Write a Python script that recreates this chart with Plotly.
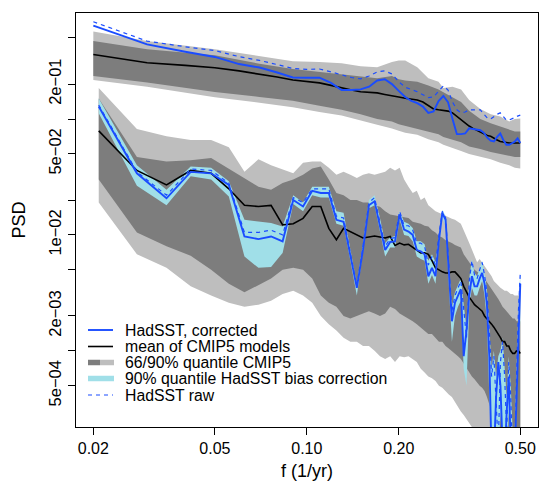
import plotly.graph_objects as go

# ---- upper set: smoothed spectra (offset), frequency grid 0.02 .. 0.50
f_up = [round(0.02 + 0.01 * i, 2) for i in range(49)]

up_corrected = [0.64, 0.44, 0.38, 0.343, 0.298, 0.278, 0.252, 0.228, 0.227, 0.227,
                0.205, 0.178, 0.178, 0.18, 0.19, 0.215, 0.22, 0.20, 0.175, 0.155,
                0.143, 0.137, 0.128, 0.113, 0.116, 0.143, 0.158, 0.14, 0.10, 0.074,
                0.074, 0.075, 0.083, 0.082, 0.081, 0.08, 0.076, 0.069, 0.065, 0.064,
                0.07, 0.075, 0.066, 0.06, 0.06, 0.062, 0.064, 0.068, 0.062]
up_raw = [0.69, 0.47, 0.42, 0.39, 0.345, 0.32, 0.295, 0.273, 0.268, 0.27,
          0.255, 0.24, 0.228, 0.222, 0.235, 0.255, 0.26, 0.245, 0.21, 0.188,
          0.18, 0.172, 0.162, 0.153, 0.155, 0.175, 0.193, 0.178, 0.14, 0.12,
          0.113, 0.115, 0.12, 0.12, 0.12, 0.12, 0.11, 0.102, 0.10, 0.105,
          0.11, 0.113, 0.105, 0.098, 0.098, 0.10, 0.103, 0.106, 0.108]
up_mean = [0.36, 0.306, 0.29, 0.277, 0.26, 0.245, 0.23, 0.217, 0.21, 0.205,
           0.195, 0.185, 0.178, 0.172, 0.17, 0.168, 0.163, 0.16, 0.155, 0.151,
           0.148, 0.146, 0.14, 0.13, 0.122, 0.12, 0.119, 0.117, 0.113, 0.105,
           0.098, 0.092, 0.087, 0.083, 0.08, 0.077, 0.074, 0.072, 0.071, 0.068,
           0.066, 0.064, 0.063, 0.062, 0.062, 0.062, 0.062, 0.062, 0.062]

# upper CMIP5 quantile bands
f_ub = [0.02, 0.03, 0.05, 0.07, 0.09, 0.11, 0.13, 0.15, 0.17, 0.19, 0.20, 0.21, 0.23,
        0.25, 0.27, 0.28, 0.30, 0.32, 0.34, 0.37, 0.40, 0.43, 0.46, 0.48, 0.50]
ub_q95 = [0.57, 0.47, 0.40, 0.35, 0.315, 0.31, 0.303, 0.285, 0.28, 0.31, 0.32, 0.32, 0.28,
          0.225, 0.21, 0.185, 0.19, 0.18, 0.146, 0.122, 0.11, 0.105, 0.095, 0.10, 0.101]
ub_q83 = [0.47, 0.40, 0.355, 0.30, 0.27, 0.255, 0.24, 0.232, 0.225, 0.235, 0.22, 0.215, 0.21,
          0.195, 0.18, 0.17, 0.155, 0.14, 0.118, 0.10, 0.092, 0.086, 0.08, 0.078, 0.078]
ub_q17 = [0.235, 0.206, 0.171, 0.155, 0.144, 0.13, 0.12, 0.11, 0.10, 0.095, 0.09, 0.087, 0.083,
          0.078, 0.074, 0.07, 0.066, 0.063, 0.058, 0.055, 0.052, 0.05, 0.048, 0.047, 0.047]
ub_q05 = [0.217, 0.19, 0.154, 0.138, 0.126, 0.115, 0.107, 0.097, 0.089, 0.083, 0.079, 0.076, 0.073,
          0.067, 0.063, 0.060, 0.056, 0.053, 0.050, 0.047, 0.045, 0.042, 0.04, 0.038, 0.0375]

# ---- lower set: raw periodogram, f = k/144, k = 3..72
f_lo = [k / 144 for k in range(3, 73)]

lo_corrected = [0.128, 0.034, 0.0207, 0.035, 0.034, 0.027, 0.0097, 0.0092, 0.0097, 0.0088,
                0.020, 0.0176, 0.024, 0.023, 0.023, 0.0135, 0.013, 0.0065, 0.0035, 0.0075,
                0.018, 0.0195, 0.012, 0.0074, 0.0087, 0.0088, 0.015, 0.0111, 0.0107, 0.0100,
                0.0074, 0.0072, 0.0068, 0.0044, 0.0052, 0.0044, 0.009, 0.0155, 0.0135, 0.0047,
                0.0018, 0.0026, 0.0030, 0.0034, 0.0009, 0.0015, 0.003, 0.0044, 0.0036, 0.0036,
                0.0042, 0.0047, 0.0038, 0.0025, 0.0009, 0.00012, 0.00012, 0.0004, 0.0008, 0.0005,
                0.00015, 0.00012, 0.0003, 0.0006, 0.00015, 0.00012, 0.00012, 0.0004, 0.0018, 0.0038]
lo_raw = [0.132, 0.035, 0.022, 0.037, 0.036, 0.028, 0.0105, 0.0105, 0.011, 0.0100,
          0.021, 0.019, 0.025, 0.025, 0.025, 0.0145, 0.014, 0.007, 0.0036, 0.008,
          0.019, 0.021, 0.013, 0.008, 0.0093, 0.0095, 0.016, 0.012, 0.012, 0.011,
          0.0085, 0.0085, 0.008, 0.0055, 0.0065, 0.0055, 0.010, 0.016, 0.014, 0.0055,
          0.0022, 0.003, 0.0035, 0.004, 0.0023, 0.0013, 0.004, 0.006, 0.0045, 0.0042,
          0.005, 0.0058, 0.0045, 0.0032, 0.0015, 0.0006, 0.0009, 0.0004, 0.00015, 0.0008,
          0.0012, 0.0006, 0.0002, 0.0008, 0.0004, 0.00012, 0.00012, 0.0006, 0.0022, 0.0047]
lo_bias_hi = [0.15, 0.040, 0.0245, 0.039, 0.038, 0.029, 0.0135, 0.013, 0.0127, 0.0118,
              0.022, 0.019, 0.026, 0.026, 0.026, 0.016, 0.0155, 0.0075, 0.0038, 0.0085,
              0.020, 0.022, 0.014, 0.0085, 0.0095, 0.0098, 0.016, 0.013, 0.0125, 0.0115,
              0.0088, 0.0088, 0.0083, 0.006, 0.0068, 0.0058, 0.0105, 0.0165, 0.0145, 0.006,
              0.0024, 0.0032, 0.0037, 0.0042, 0.0025, 0.0016, 0.0042, 0.0062, 0.0047, 0.0044,
              0.0052, 0.006, 0.0047, 0.0034, 0.0016, 0.0007, 0.001, 0.0006, 0.0009, 0.001,
              0.0013, 0.0007, 0.0004, 0.0009, 0.0005, 0.0002, 0.0002, 0.0007, 0.0024, 0.0048]
lo_bias_lo = [0.112, 0.0265, 0.018, 0.032, 0.030, 0.0215, 0.0065, 0.0052, 0.0053, 0.007,
              0.0185, 0.016, 0.022, 0.021, 0.021, 0.0125, 0.012, 0.006, 0.003, 0.007,
              0.017, 0.018, 0.011, 0.0065, 0.0078, 0.0078, 0.0135, 0.010, 0.0098, 0.0088,
              0.0065, 0.0062, 0.006, 0.0038, 0.0045, 0.0038, 0.008, 0.014, 0.012, 0.004,
              0.0012, 0.002, 0.0024, 0.0027, 0.0007, 0.0005, 0.0024, 0.0035, 0.003, 0.003,
              0.0035, 0.004, 0.003, 0.0018, 0.0004, 0.0001, 0.0001, 0.0001, 0.0001, 0.0003,
              0.0001, 0.0001, 0.0001, 0.0003, 0.0001, 0.0001, 0.0001, 0.0002, 0.0009, 0.0018]
lo_mean = [0.079, 0.036, 0.027, 0.036, 0.034, 0.025, 0.018, 0.0176, 0.018, 0.0122,
           0.0125, 0.0139, 0.0176, 0.0176, 0.0114, 0.0091, 0.0114, 0.0107, 0.010, 0.0094,
           0.0096, 0.0098, 0.0096, 0.0094, 0.0097, 0.0081, 0.0085, 0.0082, 0.0083, 0.0078,
           0.0074, 0.0070, 0.0070, 0.0068, 0.0060, 0.0052, 0.0050, 0.0048, 0.0047, 0.0047,
           0.0048, 0.0048, 0.0045, 0.0042, 0.0036, 0.0032, 0.0029, 0.0027, 0.0025, 0.0024,
           0.0023, 0.0022, 0.0020, 0.0019, 0.0018, 0.0017, 0.0016, 0.0015, 0.0014, 0.0013,
           0.0012, 0.0012, 0.0011, 0.0011, 0.0010, 0.00095, 0.00095, 0.001, 0.001, 0.00095]
lo_q95 = [0.185, 0.082, 0.071, 0.066, 0.066, 0.057, 0.035, 0.045, 0.040, 0.037,
          0.034, 0.042, 0.043, 0.043, 0.038, 0.033, 0.035, 0.033, 0.031, 0.033,
          0.034, 0.033, 0.034, 0.035, 0.038, 0.036, 0.038, 0.030, 0.026, 0.023,
          0.024, 0.020, 0.021, 0.018, 0.017, 0.016, 0.0155, 0.015, 0.0145, 0.014,
          0.0138, 0.0135, 0.013, 0.0125, 0.011, 0.0095, 0.0085, 0.0075, 0.0065, 0.0058,
          0.0062, 0.0058, 0.0054, 0.005, 0.0047, 0.0044, 0.004, 0.0038, 0.0036, 0.0035,
          0.0034, 0.0033, 0.0033, 0.0032, 0.0031, 0.0031, 0.003, 0.003, 0.003, 0.0032]
lo_q83 = [0.15, 0.047, 0.043, 0.044, 0.046, 0.037, 0.031, 0.026, 0.0245, 0.028,
          0.030, 0.033, 0.0375, 0.039, 0.030, 0.023, 0.022, 0.020, 0.020, 0.019,
          0.019, 0.018, 0.0175, 0.016, 0.015, 0.0148, 0.0145, 0.0142, 0.014, 0.013,
          0.0128, 0.0125, 0.012, 0.0118, 0.011, 0.0105, 0.0098, 0.0095, 0.009, 0.0088,
          0.0085, 0.0082, 0.008, 0.0078, 0.0068, 0.0062, 0.0058, 0.0054, 0.005, 0.0048,
          0.0047, 0.0045, 0.0042, 0.0039, 0.0037, 0.0034, 0.0032, 0.003, 0.0028, 0.0026,
          0.0024, 0.0023, 0.0022, 0.0021, 0.002, 0.0019, 0.0019, 0.0018, 0.0018, 0.0018]
lo_q17 = [0.030, 0.0105, 0.0080, 0.0066, 0.0050, 0.0038, 0.0032, 0.0037, 0.0042, 0.0050,
          0.0052, 0.0050, 0.0042, 0.0030, 0.0026, 0.0024, 0.0020, 0.0019, 0.0020, 0.0021,
          0.0022, 0.0021, 0.0020, 0.0021, 0.0024, 0.0023, 0.0021, 0.0020, 0.0019, 0.0018,
          0.0017, 0.0016, 0.0015, 0.0014, 0.0014, 0.0013, 0.0012, 0.0012, 0.0011, 0.00105,
          0.001, 0.00095, 0.0009, 0.00085, 0.00078, 0.00072, 0.00065, 0.0006, 0.00057, 0.00054,
          0.0005, 0.00048, 0.00045, 0.0004, 0.00035, 0.0003, 0.0002, 0.0002, 0.0002, 0.0002,
          0.0002, 0.0002, 0.0002, 0.0002, 0.0002, 0.0002, 0.0002, 0.0002, 0.0002, 0.0002]
lo_q05 = [0.019, 0.0068, 0.0052, 0.0036, 0.0030, 0.0026, 0.0024, 0.0025, 0.0027, 0.0031,
          0.0033, 0.0030, 0.0026, 0.0020, 0.0017, 0.0015, 0.0013, 0.0012, 0.0012, 0.0011,
          0.0011, 0.0010, 0.0009, 0.00085, 0.0009, 0.0008, 0.0009, 0.00088, 0.0009, 0.00085,
          0.0008, 0.0007, 0.00065, 0.0006, 0.00058, 0.00055, 0.0005, 0.00048, 0.00045, 0.00042,
          0.0004, 0.00036, 0.00033, 0.0003, 0.00028, 0.00026, 0.00024, 0.00022, 0.0002, 0.0002,
          0.0002, 0.0002, 0.0002, 0.0002, 0.0002, 0.0002, 0.0002, 0.0002, 0.0002, 0.0002,
          0.00015, 0.00015, 0.00015, 0.00015, 0.00015, 0.00015, 0.00015, 0.00015, 0.00015, 0.00015]

x_ticks = [0.02, 0.05, 0.1, 0.2, 0.5]
x_ticktext = ["0.02", "0.05", "0.10", "0.20", "0.50"]
y_ticks = [0.5, 0.2, 0.1, 0.05, 0.02, 0.01, 0.005, 0.002, 0.001, 0.0005]
y_ticktext = ["", "2e\u221201", "", "5e\u221202", "", "1e\u221202", "", "2e\u221203", "", "5e\u221204"]

legend_labels = ["HadSST, corrected", "mean of CMIP5 models", "66/90% quantile CMIP5",
                 "90% quantile HadSST bias correction", "HadSST raw"]

LIGHT = "#bebebe"
DARK = "#7d7d7d"
CYAN = "#a0dfe8"
BLUE = "#1a4cff"
FONT = "Liberation Sans, Arial, Helvetica, sans-serif"


def band(x, lo, hi, color):
    return go.Scatter(x=list(x) + list(x)[::-1], y=list(hi) + list(lo)[::-1],
                      fill="toself", fillcolor=color, line=dict(width=0),
                      mode="lines", hoverinfo="skip", showlegend=False)


def line(x, y, color, width, dash="solid"):
    return go.Scatter(x=x, y=y, mode="lines", showlegend=False,
                      line=dict(color=color, width=width, dash=dash))


fig = go.Figure()
fig.add_trace(band(f_ub, ub_q05, ub_q95, LIGHT))
fig.add_trace(band(f_ub, ub_q17, ub_q83, DARK))
fig.add_trace(band(f_lo, lo_q05, lo_q95, LIGHT))
fig.add_trace(band(f_lo, lo_q17, lo_q83, DARK))
fig.add_trace(band(f_lo, lo_bias_lo, lo_bias_hi, CYAN))
fig.add_trace(line(f_up, up_mean, "black", 1.6))
fig.add_trace(line(f_lo, lo_mean, "black", 1.6))
fig.add_trace(line(f_up, up_raw, BLUE, 1.2, "4px,4px"))
fig.add_trace(line(f_lo, lo_raw, BLUE, 1.2, "4px,4px"))
fig.add_trace(line(f_up, up_corrected, BLUE, 1.9))
fig.add_trace(line(f_lo, lo_corrected, BLUE, 1.9))

# hand-drawn legend (R style, no box)
L, T, W, H = 76, 13, 462, 414


def px(x):
    return (x - L) / W


def py(y):
    return (T + H - y) / H


rows = [330, 346.5, 362.5, 378.5, 395]
shapes = [
    dict(type="line", x0=px(88), x1=px(113), y0=py(rows[0]), y1=py(rows[0]),
         line=dict(color=BLUE, width=1.9)),
    dict(type="line", x0=px(88), x1=px(113), y0=py(rows[1]), y1=py(rows[1]),
         line=dict(color="black", width=1.6)),
    dict(type="line", x0=px(88), x1=px(100), y0=py(rows[2]), y1=py(rows[2]),
         line=dict(color=DARK, width=5.5)),
    dict(type="line", x0=px(100), x1=px(114), y0=py(rows[2]), y1=py(rows[2]),
         line=dict(color=LIGHT, width=5.5)),
    dict(type="line", x0=px(88), x1=px(114), y0=py(rows[3]), y1=py(rows[3]),
         line=dict(color=CYAN, width=5.5)),
    dict(type="line", x0=px(88), x1=px(113), y0=py(rows[4]), y1=py(rows[4]),
         line=dict(color=BLUE, width=1.2, dash="4px,4px")),
]
for s in shapes:
    s.update(xref="paper", yref="paper")

annotations = [dict(x=px(123), y=py(r), xref="paper", yref="paper", text=t,
                    showarrow=False, xanchor="left", yanchor="middle",
                    font=dict(size=15.8, color="black", family=FONT))
               for r, t in zip(rows, legend_labels)]
annotations.append(dict(x=px(18.5), y=py(220), xref="paper", yref="paper", text="PSD",
                        textangle=-90, showarrow=False, xanchor="center", yanchor="middle",
                        font=dict(size=18, color="black", family=FONT)))
annotations.append(dict(x=px(307), y=py(471), xref="paper", yref="paper", text="f (1/yr)",
                        showarrow=False, xanchor="center", yanchor="middle",
                        font=dict(size=18, color="black", family=FONT)))

fig.update_layout(
    width=539, height=482,
    margin=dict(l=L, r=539 - L - W, t=T, b=482 - T - H, autoexpand=False),
    plot_bgcolor="white", paper_bgcolor="white",
    font=dict(family=FONT, color="black"),
    shapes=shapes, annotations=annotations,
    xaxis=dict(type="log", range=[-1.7557, -0.243], tickvals=x_ticks, ticktext=x_ticktext,
               ticks="outside", ticklen=7, tickwidth=1, tickcolor="black", automargin=False,
               showline=True, linecolor="black", linewidth=1.2, mirror=True,
               showgrid=False, zeroline=False, tickfont=dict(size=16)),
    yaxis=dict(type="log", range=[-3.657, -0.0855], tickvals=y_ticks, ticktext=y_ticktext,
               tickangle=-90, ticks="outside", ticklen=7, tickwidth=1, tickcolor="black",
               automargin=False,
               showline=True, linecolor="black", linewidth=1.2, mirror=True,
               showgrid=False, zeroline=False, tickfont=dict(size=16.5)),
)

# the page body has a default 8px margin; remove it so the figure sits at (0, 0)
fig.write_html("out.html", config={"displayModeBar": False},
               post_script="document.body.style.margin='0px';document.body.style.overflow='hidden';")
